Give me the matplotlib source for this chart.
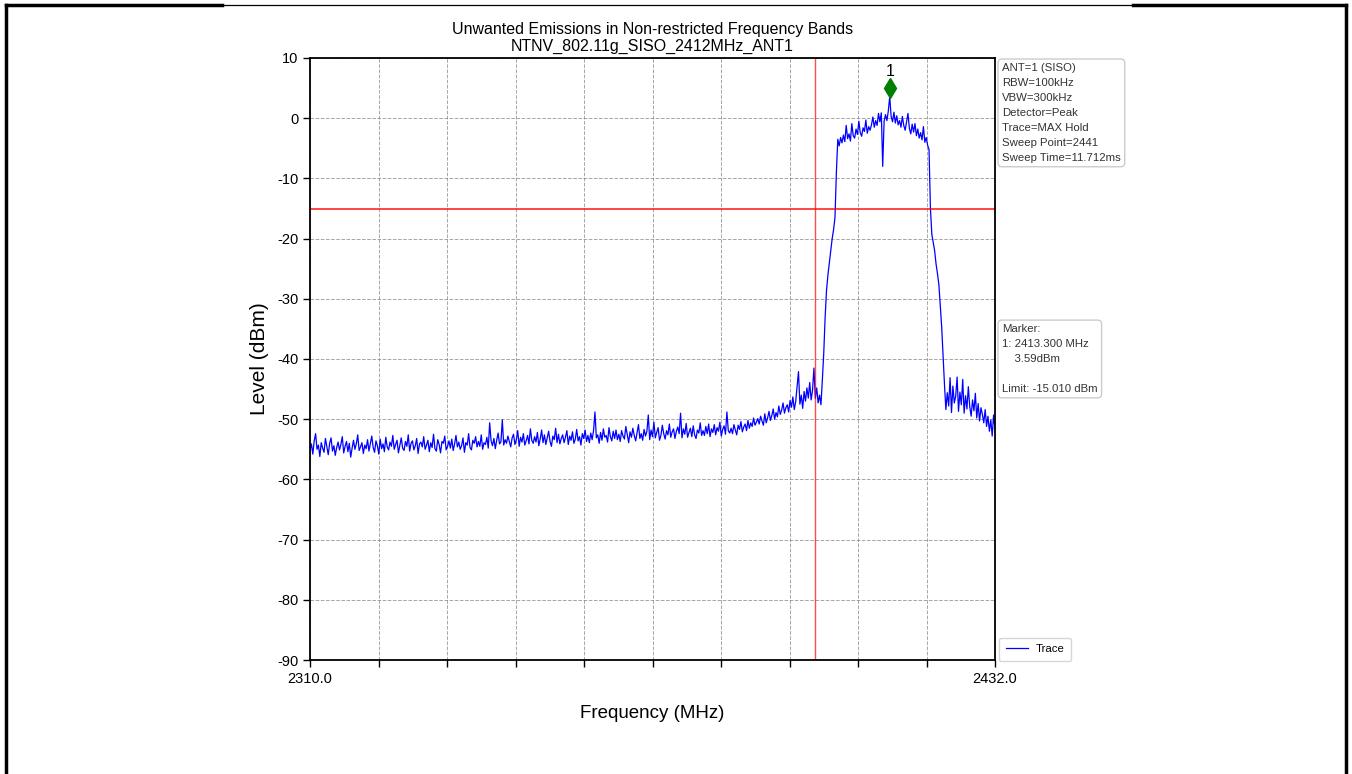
import numpy as np
import matplotlib
matplotlib.use('Agg')
import matplotlib.pyplot as plt
from matplotlib.lines import Line2D
from matplotlib.transforms import offset_copy

plt.rcParams['font.family'] = ['Liberation Sans', 'DejaVu Sans']
plt.rcParams['axes.unicode_minus'] = False

title = 'Unwanted Emissions in Non-restricted Frequency Bands\nNTNV_802.11g_SISO_2412MHz_ANT1'
f_start = 2310.0
f_stop = 2432.0
limit = -15.010
fc_line = 2400.0
marker_freq = 2413.300
marker_level = 3.59
settings = ['ANT=1 (SISO)', 'RBW=100kHz', 'VBW=300kHz', 'Detector=Peak',
            'Trace=MAX Hold', 'Sweep Point=2441', 'Sweep Time=11.712ms']

# max hold trace, 0.25 MHz per point (one row = 5 MHz)
level = [
    -55.2, -54.1, -55.8, -53.6, -52.4, -55.0, -54.3, -56.2, -53.9, -54.8, -55.5, -53.2, -54.6, -55.9, -54.0, -53.1, -55.3, -54.4, -56.0, -54.7,
    -53.8, -55.1, -54.2, -52.9, -55.6, -54.5, -53.7, -55.4, -54.0, -56.3, -54.8, -53.5, -55.0, -54.1, -52.6, -55.2, -54.6, -53.9, -55.7, -54.3,
    -54.9, -53.4, -55.3, -54.0, -52.8, -54.7, -55.5, -53.6, -54.4, -55.8, -53.3, -54.9, -54.1, -55.4, -53.0, -54.6, -55.1, -53.8, -54.5, -52.7,
    -55.0, -54.2, -53.5, -55.6, -54.3, -53.1, -54.8, -55.2, -53.7, -54.5, -52.6, -55.3, -54.0, -53.6, -55.1, -54.4, -53.2, -55.7, -54.1, -53.8,
    -54.6, -52.9, -55.0, -54.3, -53.5, -55.4, -53.9, -54.7, -52.5, -54.9, -55.3, -53.4, -54.2, -55.6, -53.7, -54.0, -52.8, -55.1, -54.5, -53.6,
    -54.8, -53.3, -55.2, -54.1, -52.7, -54.6, -53.8, -55.0, -54.4, -53.1, -55.5, -53.9, -54.3, -52.4, -54.7, -55.1, -53.5, -54.0, -52.9, -54.6,
    -53.7, -54.5, -52.6, -55.0, -53.9, -54.2, -53.0, -54.8, -50.6, -53.6, -54.4, -53.2, -54.9, -53.5, -52.3, -54.1, -53.8, -50.1, -54.3, -53.4,
    -54.0, -52.8, -53.7, -54.6, -53.1, -52.5, -54.2, -53.4, -51.9, -54.5, -53.0, -53.8, -52.4, -54.3, -53.6, -52.7, -54.1, -51.6, -53.5, -54.0,
    -52.9, -53.8, -52.2, -54.4, -53.3, -51.8, -53.9, -52.6, -54.2, -53.1, -52.0, -53.7, -54.5, -52.8, -53.4, -51.5, -53.9, -52.5, -54.1, -53.2,
    -52.6, -53.9, -53.0, -51.9, -54.2, -52.8, -53.5, -52.1, -54.0, -53.3, -51.7, -53.6, -52.9, -54.3, -52.4, -53.2, -51.8, -53.7, -52.7, -53.9,
    -52.3, -53.4, -51.9, -48.8, -53.1, -52.6, -54.0, -52.2, -53.5, -51.6, -53.0, -52.7, -53.8, -51.4, -52.9, -53.6, -52.0, -53.2, -51.8, -53.4,
    -52.5, -53.7, -51.9, -52.8, -53.3, -51.2, -52.6, -53.9, -52.1, -53.0, -51.5, -52.7, -53.6, -52.3, -50.9, -53.2, -52.4, -53.5, -51.7, -52.8,
    -52.0, -49.3, -53.4, -51.8, -52.9, -50.5, -53.1, -52.2, -51.4, -53.5, -52.7, -51.0, -52.4, -53.3, -51.9, -52.6, -50.8, -53.0, -52.1, -51.6,
    -53.2, -52.0, -51.3, -52.4, -49.0, -53.1, -51.6, -52.5, -50.7, -53.0, -52.2, -51.5, -52.9, -51.1, -52.6, -53.2, -51.8, -52.3, -50.6, -52.7,
    -51.9, -52.7, -51.2, -52.4, -50.8, -52.9, -51.6, -52.2, -50.9, -52.6, -51.4, -52.0, -50.5, -52.8, -51.7, -51.1, -52.5, -48.8, -51.9, -52.3,
    -51.5, -52.4, -50.9, -51.8, -52.6, -51.0, -51.7, -50.4, -52.1, -51.3, -50.8, -51.9, -50.2, -51.5, -50.6, -51.2, -49.8, -51.0, -50.5, -49.9,
    -50.8, -49.5, -50.3, -51.0, -49.1, -50.6, -49.8, -48.7, -50.2, -49.4, -48.3, -50.0, -48.9, -49.6, -47.8, -49.2, -48.5, -47.3, -49.0, -48.1,
    -47.6, -48.8, -46.9, -48.0, -46.3, -48.4, -47.1, -44.6, -42.1, -47.5, -46.0, -48.2, -45.4, -47.0, -44.8, -46.5, -43.9, -46.8, -45.2, -41.5,
    -46.5, -44.8, -47.3, -46.0, -47.6, -43.5, -39.0, -33.0, -28.5, -26.0, -24.0, -22.0, -20.0, -18.5, -16.5, -9.0, -3.5, -4.6, -3.2, -4.1,
    -2.8, -3.9, -1.2, -3.4, -2.6, -3.8, -0.9, -2.9, -3.3, -1.8, -2.7, -0.5, -2.4, -3.0, -1.6, -2.2, -0.3, -2.5, -1.4, -2.0,
    -1.1, 0.2, -1.5, -0.4, -1.2, 0.8, -0.6, 0.9, -8.0, -0.5, 0.6, -0.4, 1.2, 3.59, 0.3, -0.6, 1.0, -0.8, 0.4, -1.1,
    -0.4, -1.5, 0.3, -1.2, -2.0, -0.6, 0.8, -1.7, -2.6, -1.0, -2.3, -0.9, -2.9, -1.8, -3.3, -2.4, -3.6, -1.4, -4.0, -3.2,
    -4.5, -5.2, -15.0, -19.3, -20.6, -22.0, -24.2, -25.8, -27.6, -31.0, -34.6, -39.5, -44.2, -48.4, -45.6, -47.8, -43.1, -48.9, -44.5, -47.3,
    -46.2, -43.0, -48.7, -45.5, -47.6, -43.4, -49.0, -46.1, -48.3, -44.6, -47.9, -49.5, -46.8, -48.6, -45.7, -49.8, -47.4, -50.3, -48.1, -49.2,
    -50.6, -48.4, -51.2, -49.5, -52.0, -50.1, -52.8, -49.3, -51.6,
]
freq = np.linspace(f_start, f_stop, len(level))

fig = plt.figure(figsize=(13.52, 7.74), dpi=100)
ax = fig.add_axes([310 / 1352, 1 - 660 / 774, 685 / 1352, 602 / 774])

ax.plot(freq, level, color='blue', linewidth=0.9, label='Trace')
ax.axhline(limit, color='red', linewidth=1.2, alpha=0.85)
ax.axvline(fc_line, color='red', linewidth=1.0, alpha=0.7)

# marker diamond sits a little above the peak, number above that
up = offset_copy(ax.transData, fig=fig, x=0, y=6, units='points')
ax.plot([marker_freq], [marker_level], marker='d', color='green', markersize=10,
        linestyle='none', transform=up)
ax.annotate('1', xy=(marker_freq, marker_level), xytext=(0, 18), textcoords='offset points',
            ha='center', va='center', fontsize=11.5)

ax.set_xlim(f_start, f_stop)
ax.set_ylim(-90, 10)
xt = np.linspace(f_start, f_stop, 11)
ax.set_xticks(xt)
ax.set_xticklabels(['%.1f' % f_start] + [''] * 9 + ['%.1f' % f_stop])
ax.set_yticks(np.arange(-90, 11, 10))
ax.tick_params(labelsize=10.5, direction='out', length=5, width=1)
ax.grid(True, color='gray', linestyle='--', linewidth=0.7, alpha=0.7)
for s in ax.spines.values():
    s.set_linewidth(1.3)

ax.set_title(title, fontsize=11.5, pad=5)
ax.set_xlabel('Frequency (MHz)', fontsize=13.5, labelpad=14)
ax.set_ylabel('Level (dBm)', fontsize=15, labelpad=6)

box = dict(boxstyle='round,pad=0.35', facecolor='white', edgecolor='0.8')
ax.text(1.0102, 0.9917, '\n'.join(settings), transform=ax.transAxes, fontsize=8.2,
        color='0.2', va='top', ha='left', linespacing=1.62, bbox=box)
ax.text(1.0102, 0.558,
        'Marker:\n1: %.3f MHz\n    %.2fdBm\n\nLimit: %.3f dBm' % (marker_freq, marker_level, limit),
        transform=ax.transAxes, fontsize=8.2, color='0.2', va='top', ha='left', linespacing=1.62, bbox=box)
ax.legend(loc='lower left', bbox_to_anchor=(1.006, -0.002), borderaxespad=0, fontsize=8.2,
          handlelength=1.9, handletextpad=0.7, borderpad=0.6, fancybox=True)

# page border around the figure
fig.add_artist(Line2D([6 / 1352, 6 / 1352], [0, 1 - 5 / 774], transform=fig.transFigure, color='black', linewidth=2.5))
fig.add_artist(Line2D([1346 / 1352, 1346 / 1352], [0, 1 - 5 / 774], transform=fig.transFigure, color='black', linewidth=2.5))
fig.add_artist(Line2D([6 / 1352, 222 / 1352], [1 - 5 / 774, 1 - 5 / 774], transform=fig.transFigure, color='black', linewidth=2.5))
fig.add_artist(Line2D([222 / 1352, 1133 / 1352], [1 - 5 / 774, 1 - 5 / 774], transform=fig.transFigure, color='black', linewidth=0.9))
fig.add_artist(Line2D([1133 / 1352, 1346 / 1352], [1 - 5 / 774, 1 - 5 / 774], transform=fig.transFigure, color='black', linewidth=2.5))

fig.savefig('out.png', dpi=100)
